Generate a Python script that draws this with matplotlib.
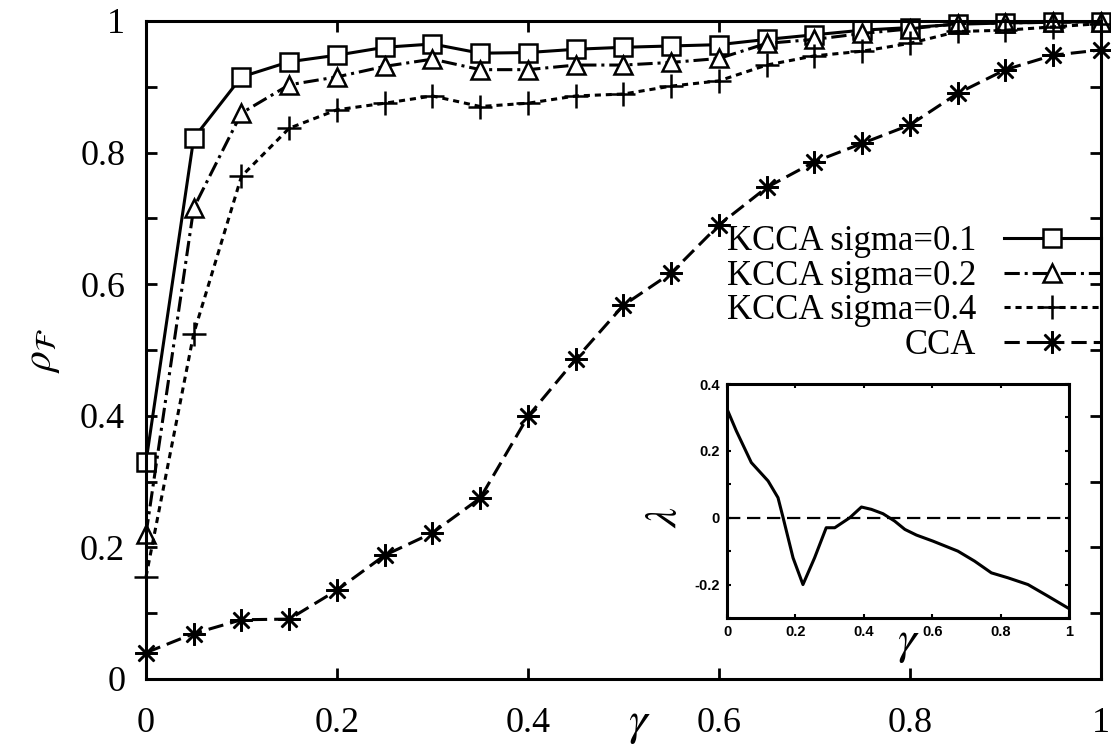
# Libraries
import numpy as np
import matplotlib
matplotlib.use('Agg')
import matplotlib.pyplot as plt
from matplotlib.ticker import MultipleLocator, FormatStrFormatter

# Plot parameters
plt.rcParams.update({
    'font.family': 'serif',
    'font.serif': ['Liberation Serif', 'DejaVu Serif'],
    'mathtext.fontset': 'stix',
    'font.size': 26,
    'lines.linewidth': 2.2,
    'axes.linewidth': 2.2,
    'xtick.direction': 'in',
    'ytick.direction': 'in',
    'xtick.top': True,
    'ytick.right': True,
})

# Data
gamma = [0.00, 0.05, 0.10, 0.15, 0.20, 0.25, 0.30, 0.35, 0.40, 0.45, 0.50,
         0.55, 0.60, 0.65, 0.70, 0.75, 0.80, 0.85, 0.90, 0.95, 1.00]
rho_s01 = [0.330, 0.822, 0.915, 0.938, 0.948, 0.960, 0.965, 0.951, 0.952, 0.957, 0.960,
           0.962, 0.964, 0.972, 0.979, 0.986, 0.990, 0.995, 0.997, 0.998, 0.999]
rho_s02 = [0.220, 0.716, 0.860, 0.903, 0.915, 0.931, 0.942, 0.926, 0.926, 0.933, 0.933,
           0.937, 0.943, 0.966, 0.972, 0.981, 0.988, 0.996, 0.997, 0.998, 0.999]
rho_s04 = [0.155, 0.525, 0.764, 0.837, 0.865, 0.875, 0.886, 0.870, 0.875, 0.886, 0.889,
           0.901, 0.909, 0.933, 0.947, 0.954, 0.966, 0.984, 0.986, 0.991, 0.996]
rho_cca = [0.040, 0.069, 0.090, 0.091, 0.135, 0.188, 0.222, 0.275, 0.399, 0.486, 0.568,
           0.617, 0.690, 0.747, 0.786, 0.814, 0.842, 0.890, 0.926, 0.948, 0.956]

# Inset curve
lam_gamma = [0.000, 0.027, 0.071, 0.120, 0.149, 0.164, 0.193, 0.222, 0.256, 0.290,
             0.315, 0.359, 0.393, 0.422, 0.456, 0.490, 0.520, 0.554, 0.602, 0.675,
             0.724, 0.773, 0.822, 0.880, 0.939, 1.000]
lam = [0.325, 0.260, 0.165, 0.110, 0.060, 0.000, -0.120, -0.200, -0.120, -0.030,
       -0.030, 0.000, 0.032, 0.025, 0.012, -0.010, -0.035, -0.052, -0.070, -0.100,
       -0.130, -0.165, -0.180, -0.200, -0.235, -0.272]

# Figure
fig = plt.figure(figsize=(11.11, 7.54), dpi=100)
ax = fig.add_axes([0.1314, 0.0995, 0.8596, 0.8727])

common = dict(color='black', mew=1.8, clip_on=False)
ax.plot(gamma, rho_s01, ls='-', marker='s', ms=13, mfc='white', label='KCCA sigma=0.1', **common)
ax.plot(gamma, rho_s02, ls=(0, (5, 1.6, 1, 1.6)), marker='^', ms=13, mfc='white',
        label='KCCA sigma=0.2', **common)
ax.plot(gamma, rho_s04, ls=(0, (2, 1.6)), marker='+', ms=17, label='KCCA sigma=0.4', **common)
ax.plot(gamma, rho_cca, ls=(0, (5, 2.3)), marker=(8, 2, 0), ms=16, label='CCA', **common)

ax.set_xlim(0, 1)
ax.set_ylim(0, 1)
ax.xaxis.set_major_locator(MultipleLocator(0.2))
ax.yaxis.set_major_locator(MultipleLocator(0.2))
ax.yaxis.set_minor_locator(MultipleLocator(0.1))
ax.xaxis.set_major_formatter(FormatStrFormatter('%g'))
ax.yaxis.set_major_formatter(FormatStrFormatter('%g'))
ax.tick_params(which='both', length=8, width=2)
ax.tick_params(axis='y', pad=15)
ax.tick_params(axis='x', pad=20)

ax.set_xlabel(r'$\gamma$', fontsize=34)
ax.xaxis.set_label_coords(0.517, -0.038)
ax.set_ylabel(r'$\rho_{\mathcal{F}}$', fontsize=30)
ax.yaxis.set_label_coords(-0.088, 0.5)

ax.legend(loc='upper right', bbox_to_anchor=(1.0, 0.69), frameon=False, markerfirst=False,
          handlelength=2.8, handletextpad=0.8, labelspacing=0.05, borderpad=0,
          borderaxespad=0, fontsize=25)

# Inset
axin = fig.add_axes([0.6544, 0.1804, 0.3078, 0.3103])
axin.plot(lam_gamma, lam, color='black', lw=2.2)
axin.axhline(0, color='black', lw=1.6, ls=(0, (6, 3)))
axin.set_xlim(0, 1)
axin.set_ylim(-0.3, 0.4)
axin.xaxis.set_major_locator(MultipleLocator(0.2))
axin.yaxis.set_major_locator(MultipleLocator(0.2))
axin.yaxis.set_minor_locator(MultipleLocator(0.1))
axin.xaxis.set_major_formatter(FormatStrFormatter('%g'))
axin.yaxis.set_major_formatter(FormatStrFormatter('%g'))
axin.tick_params(which='both', length=3, width=1.5, labelsize=10.5, pad=5)
for lab in axin.get_xticklabels() + axin.get_yticklabels():
    lab.set_family('Liberation Sans')
    lab.set_fontweight('bold')
axin.set_xlabel(r'$\gamma$', fontsize=34)
axin.xaxis.set_label_coords(0.53, -0.02)
axin.set_ylabel(r'$\lambda$', fontsize=32)
axin.yaxis.set_label_coords(-0.12, 0.43)

plt.savefig('out.png', dpi=100)
